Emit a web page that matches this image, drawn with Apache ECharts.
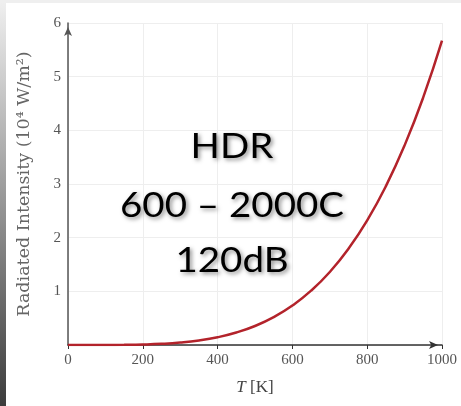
<!DOCTYPE html>
<html>
<head>
<meta charset="utf-8">
<script src="https://cdn.jsdelivr.net/npm/echarts@6/dist/echarts.min.js"></script>
<style>
html,body{margin:0;padding:0;background:#fff;}
#c{width:461px;height:406px;}
</style>
</head>
<body>
<div id="c"></div>
<script>
// Data
var temperatures = [0,50,100,150,200,250,300,350,400,450,500,550,600,650,700,750,800,850,900,950,1000];
var intensity = [0,0.0004,0.0006,0.003,0.009,0.022,0.046,0.085,0.145,0.233,0.354,0.519,0.735,1.012,1.361,1.794,2.322,2.960,3.720,4.618,5.67];
var xTicks = [0,200,400,600,800,1000];
var yTicks = [0,1,2,3,4,5,6];
var overlayLines = ['HDR','600 – 2000C','120dB'];

var seriesData = temperatures.map(function(t,i){return [t,intensity[i]];});

var chart = echarts.init(document.getElementById('c'));
var serif = '"Liberation Serif", "DejaVu Serif", serif';
var overlayY = [146.5, 205.5, 260.5];
var graphics = [
  {type:'rect', left:0, top:0, shape:{x:0,y:0,width:6,height:406}, z:100,
   style:{fill:new echarts.graphic.LinearGradient(0,0,0,1,[{offset:0,color:'#f0f0f0'},{offset:1,color:'#3c3c3c'}])}},
  {type:'rect', left:0, top:0, shape:{x:0,y:0,width:461,height:3}, z:100, style:{fill:'#efefef'}}
];
overlayLines.forEach(function(s,i){
  graphics.push({type:'text', x:232, y:overlayY[i], scaleX:1.1, z:120,
    style:{text:s, x:0, y:0, fill:'#000', font:'35px Lato, "Open Sans", sans-serif',
      textAlign:'center', textVerticalAlign:'middle',
      textShadowColor:'rgba(0,0,0,0.45)', textShadowBlur:4, textShadowOffsetX:2, textShadowOffsetY:2}});
});

chart.setOption({
  animation:false,
  backgroundColor:'#ffffff',
  grid:{left:68, right:19, top:23, bottom:61, containLabel:false},
  xAxis:{type:'value', min:xTicks[0], max:xTicks[xTicks.length-1], interval:200,
    name:'{i|T} [K]', nameLocation:'middle', nameGap:34,
    nameTextStyle:{fontFamily:serif, fontSize:17, color:'#444',
      rich:{i:{fontFamily:serif, fontStyle:'italic', fontSize:17, color:'#444'}}},
    axisLine:{show:true, onZero:false, lineStyle:{color:'#333', width:1.5}, symbol:['none','arrow'], symbolSize:[6,9], symbolOffset:[0,-4]},
    axisTick:{show:true, length:4, lineStyle:{color:'#333'}},
    axisLabel:{fontFamily:serif, fontSize:15, color:'#555', margin:8,
      formatter:function(v){return String(v);}},
    splitLine:{show:true, lineStyle:{color:'#eeeeee', width:1}}
  },
  yAxis:{type:'value', min:yTicks[0], max:yTicks[yTicks.length-1], interval:1,
    name:'Radiated Intensity (10⁴ W/m²)', nameLocation:'middle', nameGap:35,
    nameTextStyle:{fontFamily:'"DejaVu Serif", serif', fontSize:17.5, color:'#666'},
    axisLine:{show:true, onZero:false, lineStyle:{color:'#555', width:1.5}, symbol:['none','arrow'], symbolSize:[6,9], symbolOffset:[0,-4]},
    axisTick:{show:false},
    axisLabel:{fontFamily:serif, fontSize:15, color:'#555', margin:7,
      formatter:function(v){return v===0?'':String(v);}},
    splitLine:{show:true, lineStyle:{color:'#eeeeee', width:1}}
  },
  series:[{type:'line', data:seriesData, smooth:true, showSymbol:false,
    lineStyle:{color:'#b3232b', width:2.5}, z:5}],
  graphic:graphics
});
</script>
</body>
</html>
